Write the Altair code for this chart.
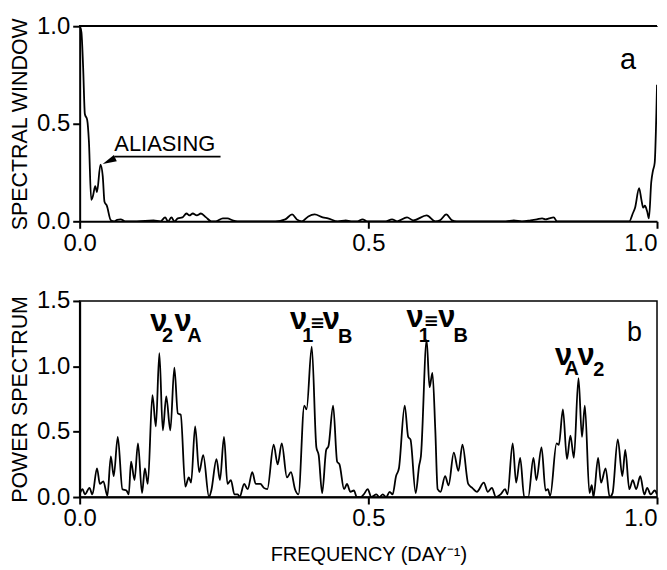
import altair as alt
import pandas as pd

FONT = "Liberation Sans"

# ---- panel a: spectral window ----
win_freq = [0.0, 0.003, 0.006, 0.009, 0.013, 0.016, 0.020, 0.023, 0.027, 0.030, 0.036, 0.040,
            0.043, 0.047, 0.054, 0.060, 0.065, 0.071, 0.079, 0.099, 0.128, 0.140, 0.148, 0.153,
            0.159, 0.164, 0.170, 0.178, 0.185, 0.190, 0.196, 0.203, 0.210, 0.219, 0.228, 0.236,
            0.248, 0.256, 0.265, 0.273, 0.316, 0.339, 0.356, 0.368, 0.376, 0.385, 0.396, 0.407,
            0.421, 0.430, 0.447, 0.461, 0.470, 0.481, 0.490, 0.498, 0.513, 0.530, 0.541, 0.550,
            0.567, 0.578, 0.601, 0.616, 0.624, 0.635, 0.645, 0.653, 0.690, 0.738, 0.752, 0.766,
            0.781, 0.792, 0.801, 0.807, 0.813, 0.821, 0.827, 0.850, 0.900, 0.952, 0.958, 0.962,
            0.969, 0.973, 0.976, 0.979, 0.983, 0.986, 0.990, 0.993, 0.996, 0.999, 1.0]
win_power = [1.0, 0.97, 0.79, 0.55, 0.52, 0.41, 0.11, 0.13, 0.18, 0.15, 0.29, 0.23,
             0.10, 0.08, 0.005, 0.0, 0.007, 0.01, 0.0, 0.0, 0.005, 0.0, 0.02, 0.0,
             0.02, 0.0, 0.015, 0.02, 0.04, 0.03, 0.04, 0.03, 0.04, 0.02, 0.0, 0.0,
             0.015, 0.015, 0.005, 0.0, 0.0, 0.0, 0.01, 0.035, 0.01, 0.0, 0.025, 0.035,
             0.02, 0.015, 0.0, 0.005, 0.0, 0.0, 0.01, 0.0, 0.0, 0.0, 0.01, 0.0,
             0.02, 0.005, 0.03, 0.0, 0.005, 0.035, 0.005, 0.0, 0.0, 0.0, 0.005, 0.0,
             0.005, 0.01, 0.015, 0.01, 0.015, 0.02, 0.0, 0.0, 0.0, 0.0, 0.04, 0.07,
             0.17, 0.11, 0.07, 0.08, 0.05, 0.015, 0.20, 0.26, 0.30, 0.57, 0.70]

# ---- panel b: power spectrum ----
ps_freq = [0.0, 0.005, 0.009, 0.017, 0.022, 0.030, 0.035, 0.041, 0.048, 0.054, 0.059, 0.066,
           0.074, 0.081, 0.085, 0.089, 0.095, 0.101, 0.108, 0.113, 0.118, 0.126, 0.132, 0.138,
           0.144, 0.150, 0.157, 0.164, 0.170, 0.175, 0.183, 0.189, 0.193, 0.200, 0.207, 0.214,
           0.224, 0.228, 0.237, 0.243, 0.250, 0.256, 0.262, 0.268, 0.274, 0.277, 0.285, 0.291,
           0.299, 0.305, 0.313, 0.319, 0.325, 0.336, 0.343, 0.350, 0.359, 0.366, 0.373, 0.379,
           0.389, 0.393, 0.402, 0.410, 0.414, 0.420, 0.427, 0.431, 0.439, 0.446, 0.450, 0.458,
           0.463, 0.469, 0.475, 0.480, 0.487, 0.492, 0.499, 0.505, 0.514, 0.519, 0.525, 0.531,
           0.537, 0.542, 0.548, 0.553, 0.563, 0.569, 0.573, 0.582, 0.588, 0.591, 0.601, 0.606,
           0.611, 0.616, 0.620, 0.625, 0.633, 0.639, 0.648, 0.656, 0.663, 0.673, 0.680, 0.688,
           0.700, 0.707, 0.714, 0.721, 0.729, 0.737, 0.741, 0.750, 0.756, 0.763, 0.770, 0.777,
           0.786, 0.791, 0.800, 0.807, 0.811, 0.815, 0.826, 0.830, 0.837, 0.844, 0.850, 0.856,
           0.864, 0.870, 0.875, 0.883, 0.887, 0.890, 0.898, 0.903, 0.911, 0.918, 0.923, 0.932,
           0.940, 0.945, 0.952, 0.958, 0.964, 0.971, 0.978, 0.983, 0.989, 0.996, 1.0]
ps_power = [0.02, 0.06, 0.02, 0.07, 0.02, 0.22, 0.10, 0.12, 0.01, 0.31, 0.16, 0.46,
            0.06, 0.05, 0.02, 0.27, 0.13, 0.41, 0.03, 0.22, 0.10, 0.78, 0.54, 1.10,
            0.51, 0.77, 0.51, 0.99, 0.64, 0.63, 0.08, 0.15, 0.11, 0.54, 0.19, 0.32,
            0.0, 0.05, 0.29, 0.13, 0.46, 0.10, 0.13, 0.02, 0.02, 0.0, 0.10, 0.06,
            0.19, 0.10, 0.10, 0.07, 0.06, 0.40, 0.25, 0.41, 0.15, 0.19, 0.06, 0.02,
            0.70, 0.67, 1.15, 0.38, 0.32, 0.03, 0.36, 0.39, 0.70, 0.27, 0.25, 0.06,
            0.10, 0.04, 0.05, 0.0, 0.0, 0.02, 0.06, 0.0, 0.02, 0.0, 0.02, 0.0,
            0.04, 0.02, 0.16, 0.22, 0.70, 0.46, 0.44, 0.03, 0.24, 0.31, 1.20, 0.84,
            0.95, 0.51, 0.06, 0.04, 0.16, 0.09, 0.34, 0.20, 0.40, 0.10, 0.07, 0.04,
            0.11, 0.04, 0.07, 0.0, 0.02, 0.06, 0.02, 0.41, 0.11, 0.30, 0.0, 0.0,
            0.30, 0.13, 0.38, 0.05, 0.06, 0.01, 0.41, 0.40, 0.67, 0.29, 0.47, 0.30,
            0.91, 0.46, 0.70, 0.03, 0.09, 0.0, 0.30, 0.11, 0.22, 0.0, 0.03, 0.44,
            0.16, 0.36, 0.06, 0.13, 0.06, 0.16, 0.02, 0.07, 0.02, 0.05, 0.02]

# ---- annotation labels ----
nu_f = [0.137, 0.179, 0.379, 0.436, 0.581, 0.636, 0.838, 0.877]
nu_v = [1.273, 1.273, 1.289, 1.289, 1.297, 1.297, 1.008, 1.008]
nu_text = ["ν"] * 8
sub_f = [0.152, 0.199, 0.395, 0.460, 0.597, 0.660, 0.852, 0.899]
sub_v = [1.183, 1.183, 1.183, 1.176, 1.183, 1.183, 0.932, 0.925]
sub_text = ["2", "A", "1", "B", "1", "B", "A", "2"]
eq_f = [0.412, 0.609]
eq_v = [1.289, 1.297]
eq_text = ["≡", "≡"]

alias_text = ["ALIASING"]
alias_f = [0.060]
alias_v = [0.36]
alias_line_f = [0.060, 0.244]
alias_line_v = [0.332, 0.332]
arrow_f = [0.0508]
arrow_v = [0.309]

win_df = pd.DataFrame({"f": win_freq, "v": win_power})
ps_df = pd.DataFrame({"f": ps_freq, "v": ps_power})
nu_df = pd.DataFrame({"f": nu_f, "v": nu_v, "t": nu_text})
sub_df = pd.DataFrame({"f": sub_f, "v": sub_v, "t": sub_text})
eq_df = pd.DataFrame({"f": eq_f, "v": eq_v, "t": eq_text})

W = 580
xscale = alt.Scale(domain=[0, 1], nice=False, zero=False)

axis_common = dict(
    domainColor="black", domainWidth=2, tickColor="black", tickWidth=2, tickSize=7,
    labelFont=FONT, labelFontSize=24, labelColor="black", labelPadding=3,
    titleFont=FONT, titleFontWeight="normal", titleColor="black",
    grid=False, format=".1f",
)
x_label_align = alt.ExprRef("datum.value == 1 ? 'right' : 'center'")

# ---------- top panel ----------
xa_top = alt.X("f:Q", scale=xscale,
               axis=alt.Axis(values=[0, 0.5, 1], title=None, labelAlign=x_label_align, **axis_common))
ya_top = alt.Y("v:Q", scale=alt.Scale(domain=[0, 1], nice=False),
               axis=alt.Axis(values=[0, 0.5, 1], title="SPECTRAL WINDOW", titleFontSize=21.5,
                             titlePadding=5, **axis_common))

top_line = alt.Chart(win_df).mark_line(color="black", strokeWidth=1.8, interpolate="monotone", clip=True).encode(
    x=xa_top, y=ya_top)
top_border = alt.Chart(win_df).mark_rule(color="black", strokeWidth=1.5).encode(y=alt.datum(1.0))
a_label = alt.Chart(pd.DataFrame({"f": [0.950], "v": [0.781], "t": ["a"]})).mark_text(
    font=FONT, fontSize=29, align="center", baseline="alphabetic", color="black").encode(
    x="f:Q", y="v:Q", text="t:N")
alias_lbl = alt.Chart(pd.DataFrame({"f": alias_f, "v": alias_v, "t": alias_text})).mark_text(
    font=FONT, fontSize=22, align="left", baseline="alphabetic", color="black").encode(
    x="f:Q", y="v:Q", text="t:N")
alias_line = alt.Chart(pd.DataFrame({"f": alias_line_f, "v": alias_line_v})).mark_line(
    color="black", strokeWidth=1.8).encode(x="f:Q", y="v:Q")
arrow = alt.Chart(pd.DataFrame({"f": arrow_f, "v": arrow_v})).mark_point(
    shape="M0,-1L0.5,1L-0.5,1Z", angle=245, size=196, filled=True, color="black", opacity=1,
    strokeWidth=0).encode(x="f:Q", y="v:Q")

top = alt.layer(top_line, top_border, a_label, alias_line, arrow, alias_lbl).properties(
    width=W, height=196, view=alt.ViewBackground(stroke="transparent"))

# ---------- bottom panel ----------
xa_bot = alt.X("f:Q", scale=xscale,
               axis=alt.Axis(values=[0, 0.5, 1], title="FREQUENCY (DAY⁻¹)", titleFontSize=20,
                             titlePadding=14, labelAlign=x_label_align, **axis_common))
ya_bot = alt.Y("v:Q", scale=alt.Scale(domain=[0, 1.5], nice=False),
               axis=alt.Axis(values=[0, 0.5, 1, 1.5], title="POWER SPECTRUM", titleFontSize=21.5,
                             titlePadding=5, **axis_common))

bot_line = alt.Chart(ps_df).mark_line(color="black", strokeWidth=1.8, interpolate="monotone", clip=True).encode(
    x=xa_bot, y=ya_bot)
nu_layer = alt.Chart(nu_df).mark_text(font=FONT, fontSize=31, fontWeight="bold", align="center",
                                      baseline="alphabetic", color="black").encode(x="f:Q", y="v:Q", text="t:N")
sub_layer = alt.Chart(sub_df).mark_text(font=FONT, fontSize=20, fontWeight="bold", align="center",
                                        baseline="alphabetic", color="black").encode(x="f:Q", y="v:Q", text="t:N")
eq_layer = alt.Chart(eq_df).mark_text(font="DejaVu Sans", fontSize=18, fontWeight="bold", align="center",
                                      baseline="alphabetic", color="black").encode(x="f:Q", y="v:Q", text="t:N")
b_label = alt.Chart(pd.DataFrame({"f": [0.961], "v": [1.196], "t": ["b"]})).mark_text(
    font=FONT, fontSize=27, align="center", baseline="alphabetic", color="black").encode(
    x="f:Q", y="v:Q", text="t:N")

bottom = alt.layer(bot_line, nu_layer, sub_layer, eq_layer, b_label).properties(
    width=W, height=197, view=alt.ViewBackground(stroke="black", strokeWidth=1.5))

chart = alt.vconcat(top, bottom, spacing=32).properties(
    padding={"left": 0, "top": 4, "right": 0, "bottom": 0},
)

chart.save("out.html", embed_options={"renderer": "svg", "actions": False})
